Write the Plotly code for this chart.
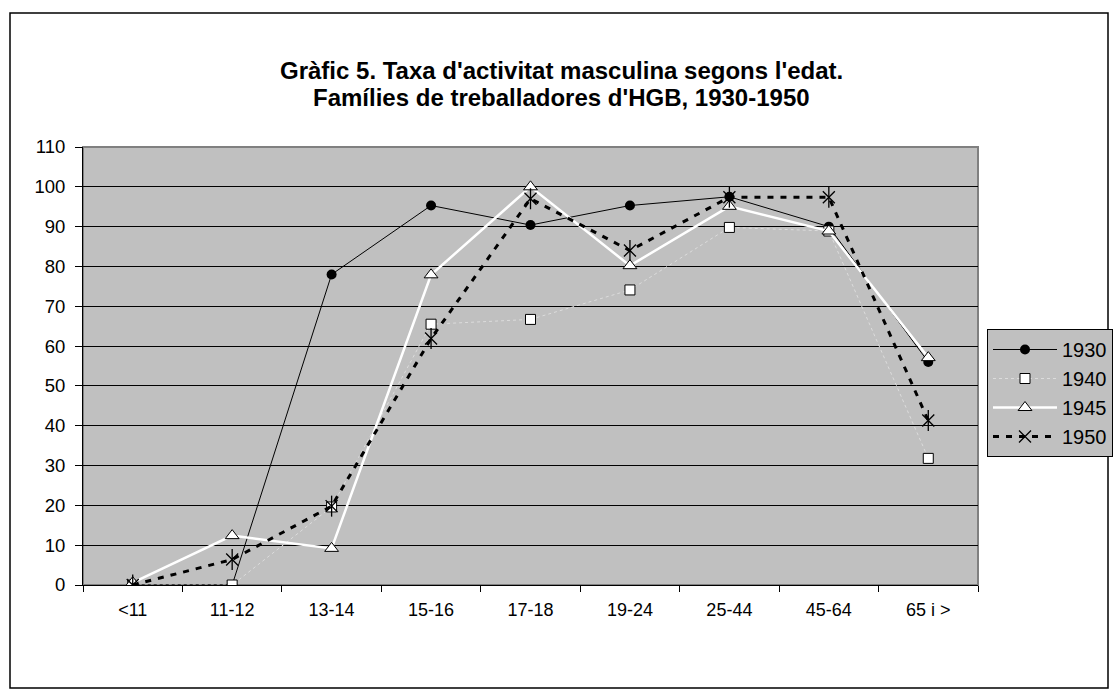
import plotly.graph_objects as go

categories = ["<11", "11-12", "13-14", "15-16", "17-18", "19-24", "25-44", "45-64", "65 i >"]
y1930 = [0, 0, 78, 95.3, 90.4, 95.3, 97.5, 90, 56]
y1940 = [0, 0, 19.6, 65.5, 66.7, 74.1, 89.8, 88.9, 31.8]
y1945 = [0.6, 12.4, 9.2, 77.9, 100, 80.2, 95.1, 88.9, 57.1]
y1950 = [0, 6.4, 19.8, 61.9, 97, 84, 97.4, 97.4, 41.3]
yticks = list(range(0, 111, 10))
title_lines = ["Gràfic 5. Taxa d'activitat masculina segons l'edat.",
               "Famílies de treballadores d'HGB, 1930-1950"]

W, H = 1116, 695
L, R, T, B = 83, 978, 147, 585

def px_x(v):
    return (v - L) / (R - L)

def px_y(v):
    return (B - v) / (B - T)

fig = go.Figure()
fig.add_trace(go.Scatter(x=categories, y=y1930, name="1930", mode="lines+markers",
                         line=dict(color="black", width=1),
                         marker=dict(symbol="circle", size=10, color="black")))
fig.add_trace(go.Scatter(x=categories, y=y1940, name="1940", mode="lines+markers",
                         line=dict(color="#DCDCDC", width=1, dash="dot"),
                         marker=dict(symbol="square", size=10, color="white",
                                     line=dict(color="black", width=1))))
fig.add_trace(go.Scatter(x=categories, y=y1945, name="1945", mode="lines+markers",
                         line=dict(color="white", width=2.5),
                         marker=dict(symbol="triangle-up", size=12, color="white",
                                     line=dict(color="black", width=1))))
fig.add_trace(go.Scatter(x=categories, y=y1950, name="1950", mode="lines+markers",
                         line=dict(color="black", width=3, dash="6px,7px"),
                         marker=dict(symbol="x-thin-open", size=12, color="black",
                                     line=dict(color="black", width=1.3))))
fig.add_trace(go.Scatter(x=categories, y=y1950, name="1950", mode="markers", showlegend=False,
                         marker=dict(symbol="line-ns-open", size=15, color="black",
                                     line=dict(color="black", width=1.3))))

annotations = []
for txt, yy in zip(title_lines, [70, 98]):
    annotations.append(dict(text="<b>" + txt + "</b>", xref="paper", yref="paper",
                            x=px_x(W / 2 + 3), y=px_y(yy), xanchor="center", yanchor="middle",
                            showarrow=False, font=dict(size=24, color="black")))

fig.update_layout(
    width=W, height=H,
    margin=dict(l=L, r=W - R, t=T, b=H - B, pad=0, autoexpand=False),
    paper_bgcolor="white", plot_bgcolor="#C0C0C0",
    font=dict(family="Liberation Sans, Arial, sans-serif", size=18, color="black"),
    annotations=annotations,
    showlegend=True,
    legend=dict(x=px_x(987), xanchor="left", y=px_y(329), yanchor="top",
                bgcolor="#C0C0C0", bordercolor="black", borderwidth=1,
                font=dict(size=20), tracegroupgap=0, itemwidth=64),
    xaxis=dict(type="category", range=[-0.5, 8.5], showgrid=False,
               showline=True, linecolor="black", linewidth=1, mirror=False,
               ticks="outside", ticklen=6, tickcolor="black", tickson="boundaries",
               tickfont=dict(size=18), ticklabelstandoff=8, automargin=False),
    yaxis=dict(range=[0, 110], tickvals=yticks, showgrid=True, gridcolor="black", gridwidth=1,
               showline=True, linecolor="black", linewidth=1, zeroline=False,
               ticks="outside", ticklen=7, tickcolor="black", tickfont=dict(size=18.5),
               ticklabelstandoff=6, automargin=False),
    shapes=[dict(type="rect", xref="paper", yref="paper",
                 x0=px_x(10), x1=px_x(1108), y0=px_y(688), y1=px_y(13),
                 line=dict(color="black", width=1.5), fillcolor="rgba(0,0,0,0)", layer="below"),
            dict(type="rect", xref="paper", yref="paper", x0=0, x1=1, y0=0, y1=1,
                 line=dict(color="#808080", width=2), fillcolor="rgba(0,0,0,0)", layer="below")],
)

fig.write_html("out.html", config={"displayModeBar": False},
               post_script="document.body.style.margin='0px';")
